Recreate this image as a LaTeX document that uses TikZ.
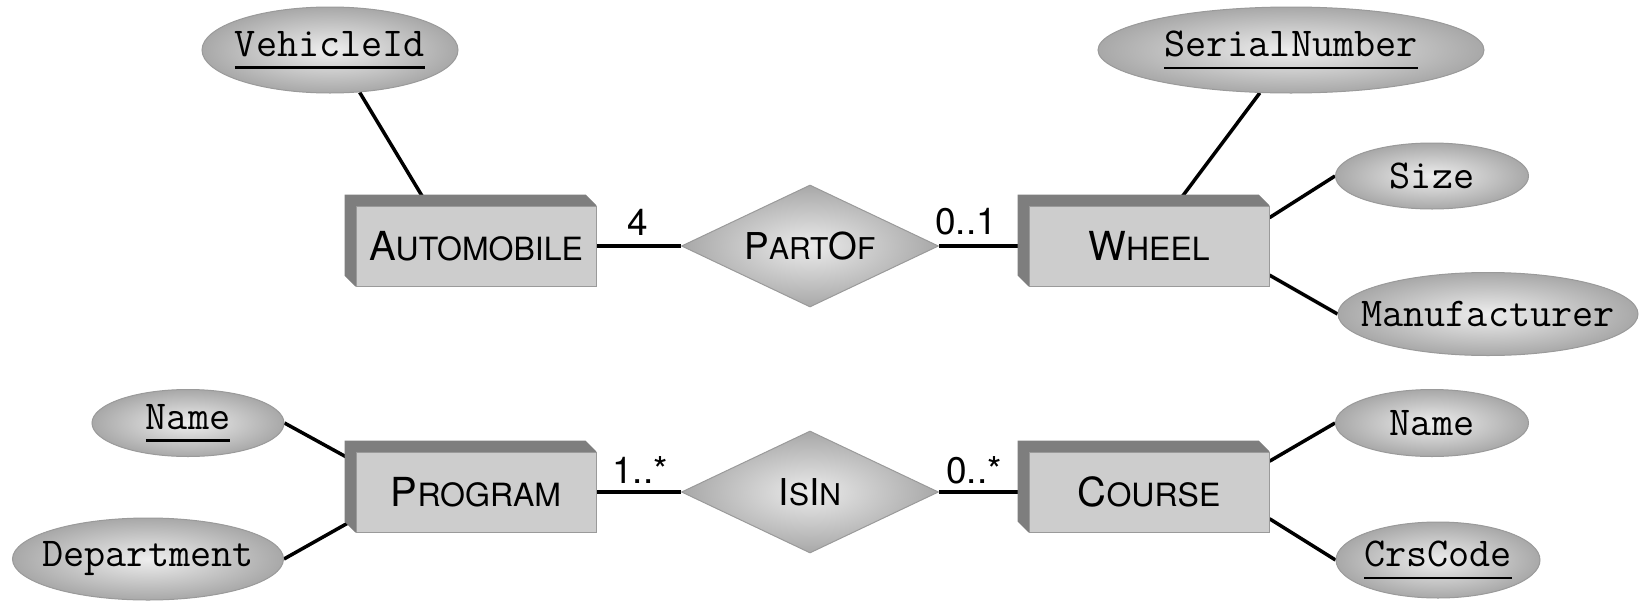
\documentclass[tikz,border=0pt]{standalone}
\usepackage{fontspec}
\newfontfamily\helv{TeX Gyre Heros}
\usetikzlibrary{shapes.geometric,calc}
\definecolor{boxface}{HTML}{CDCDCD}
\definecolor{boxband}{HTML}{7E7E7E}
\definecolor{edgegray}{HTML}{9A9A9A}
\definecolor{shadein}{HTML}{EEEEEE}
\definecolor{shadeout}{HTML}{A8A8A8}
\definecolor{relin}{HTML}{EBEBEB}
\definecolor{relout}{HTML}{A8A8A8}
\newcommand\Lg[1]{{\fontsize{40}{48}\selectfont #1}}
\newcommand\Sm[1]{{\fontsize{32}{38}\selectfont #1}}
\newcommand\RLg[1]{{\fontsize{37}{44}\selectfont #1}}
\newcommand\RSm[1]{{\fontsize{30}{36}\selectfont #1}}
\newcommand\keyattr[1]{\setbox0\hbox{#1}\rlap{\rule[-12pt]{\wd0}{2.2pt}}\box0}
\newcommand\attrtext[1]{\makebox[0pt]{#1}}
\pgfdeclarelayer{bg}
\pgfsetlayers{bg,main}
\newcommand\boxband[1]{\fill[boxband] ($(#1.north west)+(-11,-11)$) -- ($(#1.north east)+(-11,-11)$) -- (#1.north east) -- (#1.south west) -- ($(#1.south west)+(-11,-11)$) -- cycle;}
\begin{document}
\begin{tikzpicture}[x=1pt,y=-1pt,
  entity/.style={rectangle, minimum width=240pt, minimum height=80pt, fill=boxface, draw=edgegray, line width=1pt, inner sep=0pt, font=\helv},
  rel/.style={diamond, shape aspect=2.1, minimum width=257pt, minimum height=122pt, inner sep=0pt, draw=edgegray, line width=1pt, shading=radial, inner color=relin, outer color=relout, font=\helv},
  attr/.style={ellipse, inner sep=0pt, draw=edgegray, line width=1pt, shading=radial, inner color=shadein, outer color=shadeout, font=\fontsize{41}{48}\selectfont\ttfamily},
  conn/.style={line width=3.5pt, black},
  mult/.style={inner sep=0pt, font=\fontsize{37}{44}\selectfont\helv}]
\useasboundingbox (0,0) rectangle (1639,600);
% entities
\node[entity] (auto) at (476,246) {\Lg{A}\Sm{UTOMOBILE}};
\node[entity] (wheel) at (1149,246) {\Lg{W}\Sm{HEEL}};
\node[entity] (prog) at (476,492) {\Lg{P}\Sm{ROGRAM}};
\node[entity] (course) at (1149,492) {\Lg{C}\Sm{OURSE}};
% relationships
\node[rel] (partof) at (810,246) {\RLg{P}\RSm{ART}\RLg{O}\RSm{F}};
\node[rel] (isin) at (810,492) {\RLg{I}\RSm{S}\RLg{I}\RSm{N}};
% attributes
\node[attr, minimum width=256pt, minimum height=86pt] (veh) at (330,50) {\attrtext{\keyattr{VehicleId}}};
\node[attr, minimum width=386pt, minimum height=86pt] (serial) at (1291,50) {\attrtext{\keyattr{SerialNumber}}};
\node[attr, minimum width=193pt, minimum height=66pt] (size) at (1432,176) {\attrtext{Size}};
\node[attr, minimum width=300pt, minimum height=83pt] (manu) at (1488,314) {\attrtext{Manufacturer}};
\node[attr, minimum width=192pt, minimum height=67pt] (pname) at (188,423) {\attrtext{\keyattr{Name}}};
\node[attr, minimum width=271pt, minimum height=82pt] (dept) at (148,559) {\attrtext{Department}};
\node[attr, minimum width=193pt, minimum height=67pt] (cname) at (1432,423) {\attrtext{Name}};
\node[attr, minimum width=204pt, minimum height=76pt] (crs) at (1438,560) {\attrtext{\keyattr{CrsCode}}};
% multiplicities
\node[mult] (m1) at (638,222) {4};
\node[mult] (m2) at (966,222) {0..1};
\node[mult] (m3) at (640,470) {1..*};
\node[mult] (m4) at (974,470) {0..*};
\begin{pgfonlayer}{bg}
\draw[conn] (veh.-55) -- ($(auto.north west)!0.3!(auto.north east)$);
\draw[conn] (serial.-126) -- ($(wheel.north west)!0.61!(wheel.north east)$);
\draw[conn] ($(wheel.north east)!0.15!(wheel.south east)$) -- (size.west);
\draw[conn] ($(wheel.north east)!0.86!(wheel.south east)$) -- (manu.west);
\draw[conn] (pname.east) -- ($(prog.north west)!0.13!(prog.south west)$);
\draw[conn] (dept.east) -- ($(prog.north west)!0.83!(prog.south west)$);
\draw[conn] ($(course.north east)!0.12!(course.south east)$) -- (cname.west);
\draw[conn] ($(course.north east)!0.83!(course.south east)$) -- (crs.west);
\draw[conn] (auto.east) -- (partof.west);
\draw[conn] (partof.east) -- (wheel.west);
\draw[conn] (prog.east) -- (isin.west);
\draw[conn] (isin.east) -- (course.west);
\boxband{auto}
\boxband{wheel}
\boxband{prog}
\boxband{course}
\end{pgfonlayer}
\end{tikzpicture}
\end{document}
